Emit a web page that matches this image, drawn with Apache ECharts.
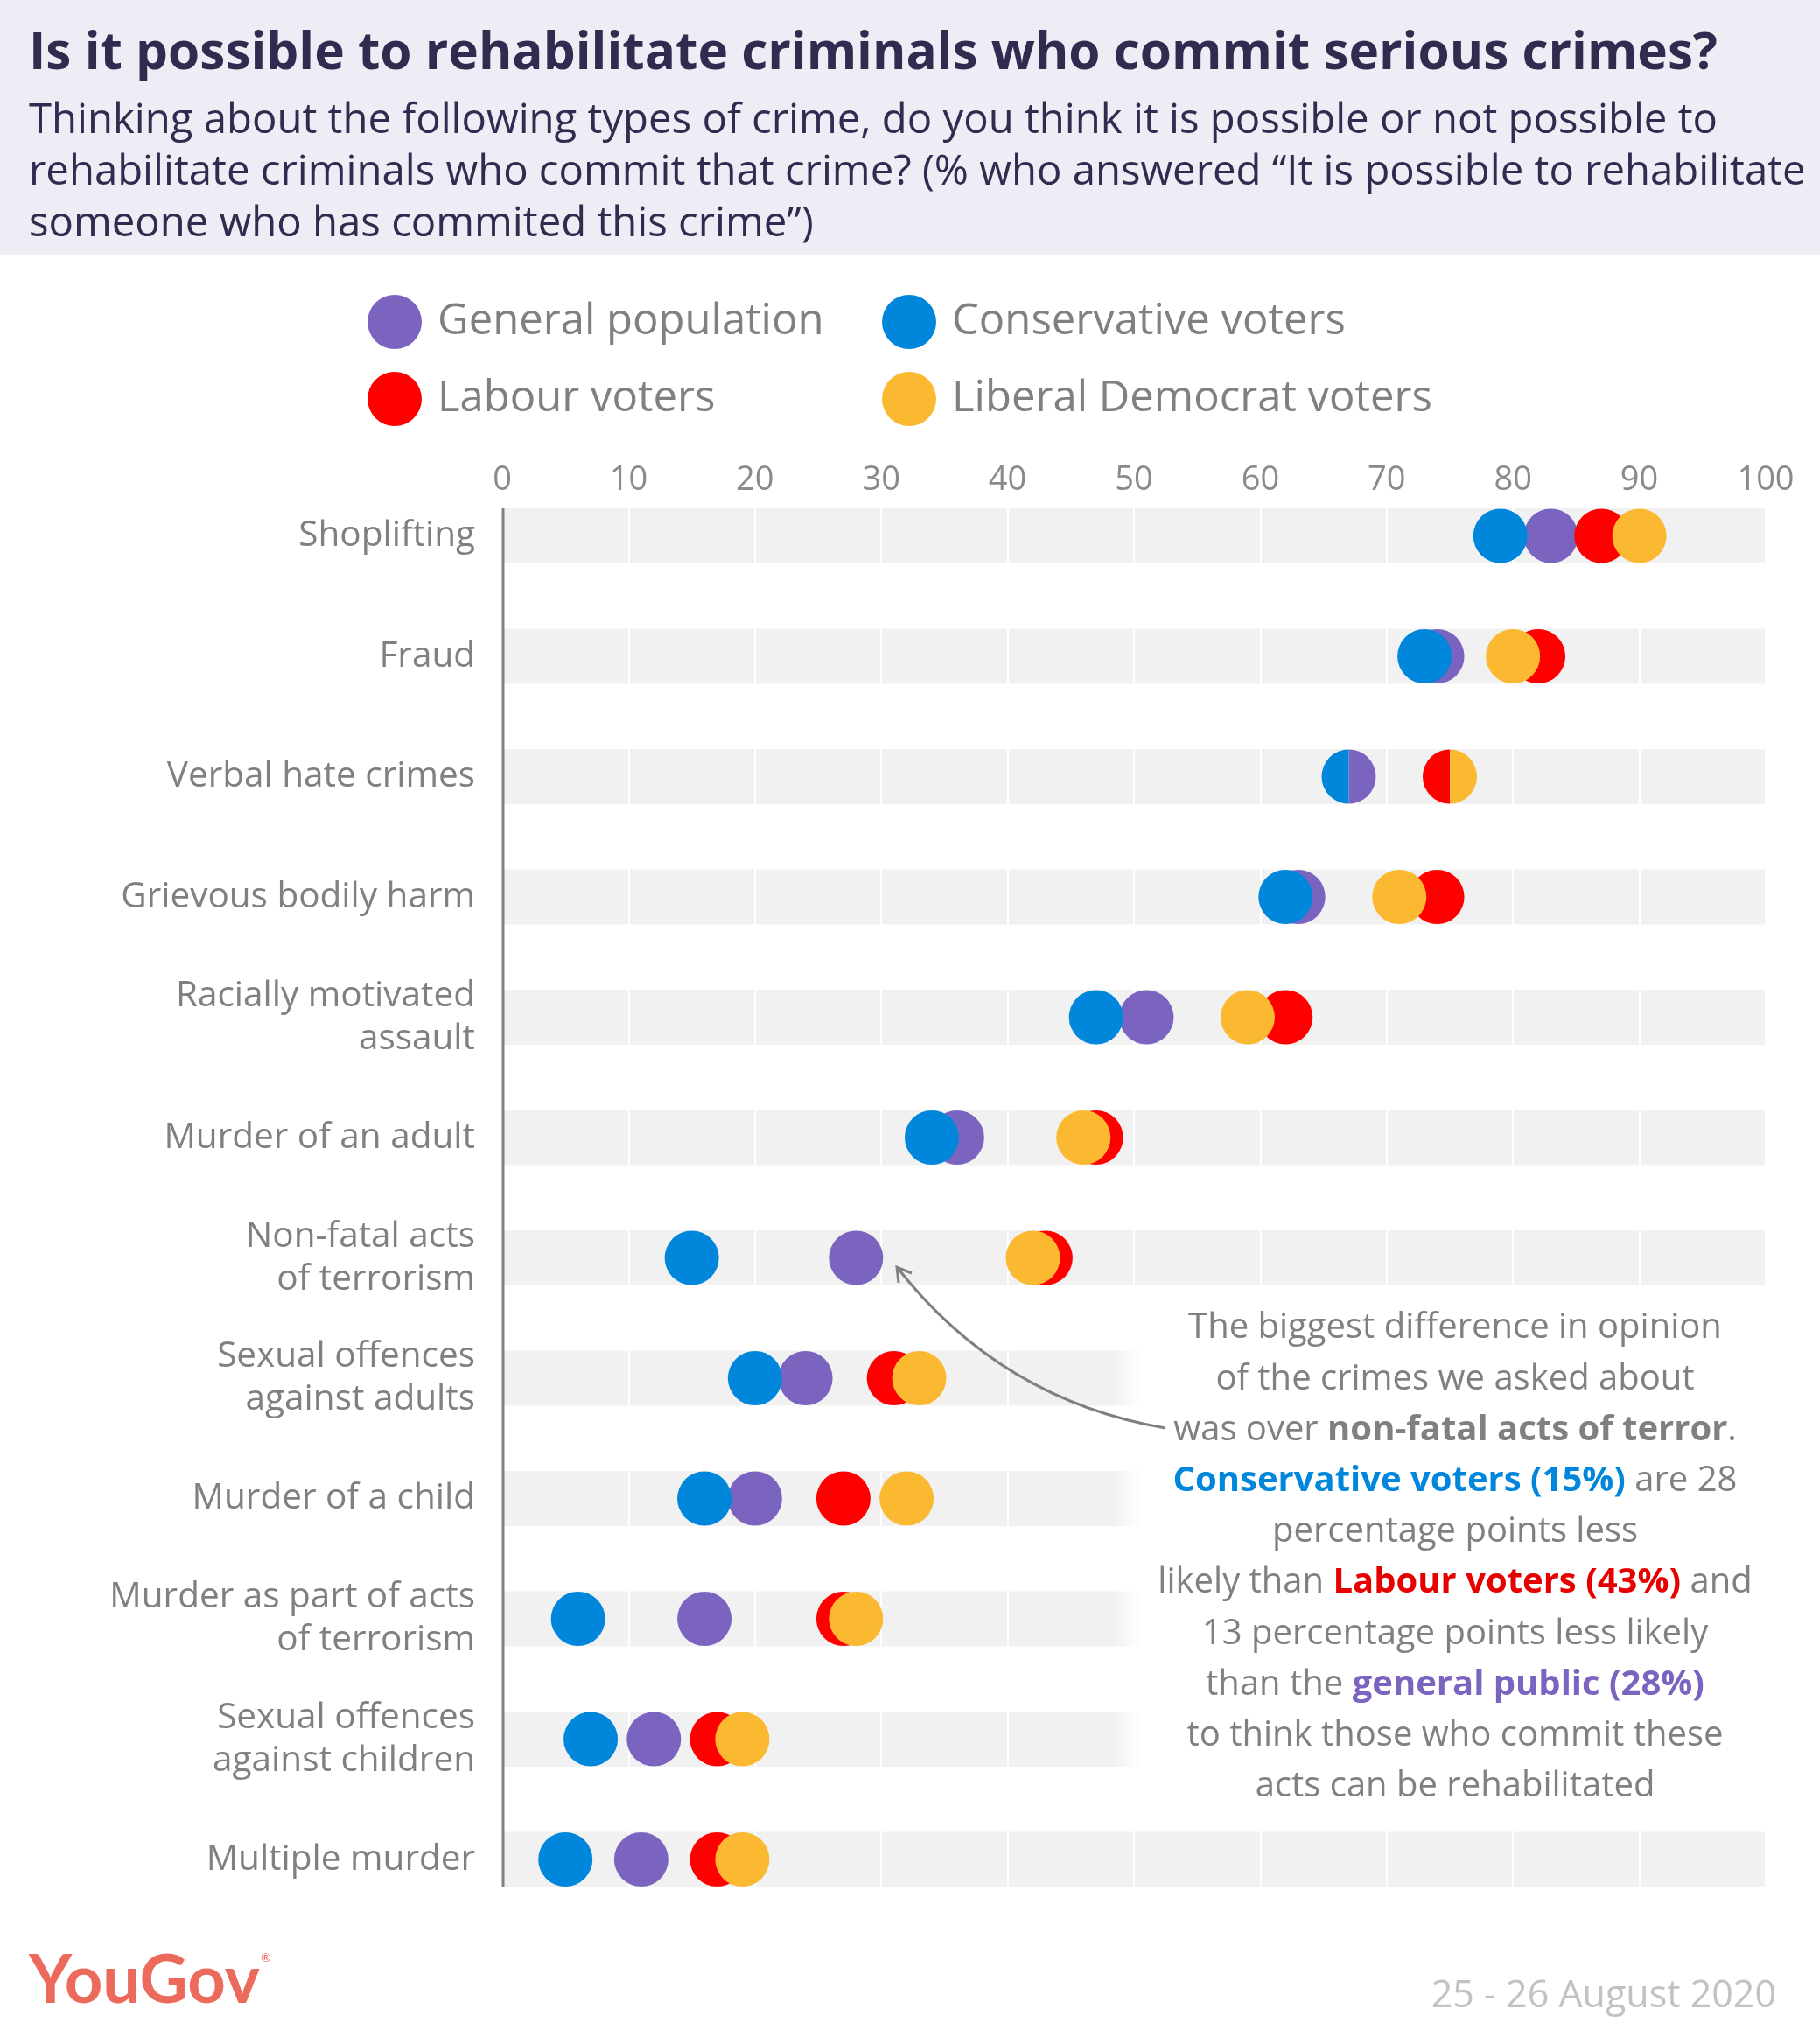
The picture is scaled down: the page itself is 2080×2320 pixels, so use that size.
<!DOCTYPE html>
<html><head><meta charset="utf-8">
<script src="https://cdn.jsdelivr.net/npm/echarts/dist/echarts.min.js"></script>
<style>html,body{margin:0;padding:0;background:#fff}#c{width:2080px;height:2320px}</style>
</head><body><div id="c"></div>
<script>
// ---- data ----
const categories = ['Shoplifting','Fraud','Verbal hate crimes','Grievous bodily harm','Racially motivated\nassault','Murder of an adult','Non-fatal acts\nof terrorism','Sexual offences\nagainst adults','Murder of a child','Murder as part of acts\nof terrorism','Sexual offences\nagainst children','Multiple murder'];
const generalPopulation  = [83,74,67,63,51,36,28,24,20,16,12,11];
const conservativeVoters = [79,73,67,62,47,34,15,20,16, 6, 7, 5];
const labourVoters       = [87,82,75,74,62,47,43,31,27,27,17,17];
const libDemVoters       = [90,80,75,71,59,46,42,33,32,28,19,19];
const axisMin = 0, axisMax = 100, axisStep = 10;
const bandValues = categories.map(() => axisMax);

const FONT = "'Open Sans', Lato, sans-serif";
const LOGO_FONT = "Lato, 'Open Sans', sans-serif";
const GRAY = '#808080';
const DOT = 62;

const seriesDefs = [
  {name:'General population', data:generalPopulation, color:'#7b64c0', z:3, side:'right'},
  {name:'Labour voters', data:labourVoters, color:'#ff0000', z:4, side:'left'},
  {name:'Conservative voters', data:conservativeVoters, color:'#0087dc', z:5, side:'left'},
  {name:'Liberal Democrat voters', data:libDemVoters, color:'#fbb931', z:6, side:'right'}
];
const LEFT_HALF = 'path://M10,0 A10,10 0 0 0 10,20 Z';
const RIGHT_HALF = 'path://M10,0 A10,10 0 0 1 10,20 Z';

function buildData(def) {
  return def.data.map((v, i) => {
    const tie = seriesDefs.some(o => o !== def && o.data[i] === v);
    if (!tie) return {value:[v, i]};
    return {
      value:[v, i],
      symbol: def.side === 'left' ? LEFT_HALF : RIGHT_HALF,
      symbolSize:[DOT/2, DOT],
      symbolOffset:[def.side === 'left' ? -DOT/4 : DOT/4, 0]
    };
  });
}

const scatterSeries = seriesDefs.map(def => ({
  name: def.name, type:'scatter', z: def.z, silent:true,
  symbol:'circle', symbolSize: DOT,
  itemStyle:{color:def.color, opacity:1},
  emphasis:{disabled:true},
  data: buildData(def)
}));

const annotationLines = [
  'The biggest difference in opinion',
  'of the crimes we asked about',
  'was over {b|non-fatal acts of terror}.',
  '{c|Conservative voters (15%)} are 28',
  'percentage points less',
  'likely than {l|Labour voters (43%)} and',
  '13 percentage points less likely',
  'than the {p|general public (28%)}',
  'to think those who commit these',
  'acts can be rehabilitated'
];
const richBase = {fontSize:40, fontFamily:FONT};
const rich = {
  b: Object.assign({fill:GRAY, fontWeight:'bold'}, richBase),
  c: Object.assign({fill:'#0087dc', fontWeight:'bold'}, richBase),
  l: Object.assign({fill:'#e60000', fontWeight:'bold'}, richBase),
  p: Object.assign({fill:'#7b64c0', fontWeight:'bold'}, richBase)
};

const chart = echarts.init(document.getElementById('c'), null, {renderer:'canvas'});

function baseGraphics() {
  const g = [
    {type:'rect', z:0, shape:{x:0, y:0, width:2080, height:292}, style:{fill:'#eeecf5'}},
    {type:'rect', z:1.5, silent:true, shape:{x:1272, y:1488, width:760, height:580},
     style:{fill:new echarts.graphic.LinearGradient(0,0,1,0,[
       {offset:0, color:'rgba(255,255,255,0)'},{offset:0.045, color:'#ffffff'},{offset:1, color:'#ffffff'}])}},
    {type:'bezierCurve', z:10, shape:{x1:1332, y1:1632, x2:1025, y2:1448, cpx1:1144, cpy1:1600},
     style:{stroke:GRAY, lineWidth:3, fill:null}},
    {type:'polyline', z:10, shape:{points:[[1027,1466],[1025,1448],[1042,1455]]},
     style:{stroke:GRAY, lineWidth:3, fill:null}},
    {type:'text', z:10, x:33, y:2264, style:{text:'YouGov', fill:'#ec6a5c', fontSize:76, fontWeight:'bold', fontFamily:LOGO_FONT, textAlign:'left', textVerticalAlign:'middle', align:'left', verticalAlign:'middle'}},
    {type:'text', z:10, x:298, y:2237, style:{text:'®', fill:'#ec6a5c', fontSize:14, fontFamily:LOGO_FONT, textAlign:'left', textVerticalAlign:'middle', align:'left', verticalAlign:'middle'}},
    {type:'text', z:10, x:2030, y:2282, style:{text:'25 - 26 August 2020', fill:'#c2c2c2', fontSize:43, fontFamily:FONT, textAlign:'right', textVerticalAlign:'middle', align:'right', verticalAlign:'middle'}}
  ];
  annotationLines.forEach((t, k) => {
    g.push({type:'text', z:10, x:1663, y:1518 + k*58.2,
      style:{text:t, rich:rich, fill:GRAY, fontSize:40, fontFamily:FONT,
        textAlign:'center', textVerticalAlign:'middle', align:'center', verticalAlign:'middle'}});
  });
  return g;
}

const option = {
  backgroundColor:'#ffffff',
  animation:false,
  title:{
    text:'Is it possible to rehabilitate criminals who commit serious crimes?',
    subtext:'Thinking about the following types of crime, do you think it is possible or not possible to\nrehabilitate criminals who commit that crime? (% who answered \u201cIt is possible to rehabilitate\nsomeone who has commited this crime\u201d)',
    left:33, top:27, padding:0, itemGap:12,
    textStyle:{fontFamily:FONT, fontSize:58.5, fontWeight:'bold', color:'#302b4f', lineHeight:70},
    subtextStyle:{fontFamily:FONT, fontSize:47.3, color:'#302b4f', lineHeight:59}
  },
  legend:[
    {data:['General population','Labour voters'], orient:'vertical', left:420, top:337, padding:0,
     itemWidth:DOT, itemHeight:DOT, itemGap:26, icon:'circle', selectedMode:false,
     textStyle:{fontFamily:FONT, fontSize:49, color:GRAY, padding:[0,0,0,13]}},
    {data:['Conservative voters','Liberal Democrat voters'], orient:'vertical', left:1008, top:337, padding:0,
     itemWidth:DOT, itemHeight:DOT, itemGap:26, icon:'circle', selectedMode:false,
     textStyle:{fontFamily:FONT, fontSize:49, color:GRAY, padding:[0,0,0,13]}}
  ],
  grid:{left:574, right:62, top:543.75, bottom:126.25, containLabel:false, outerBoundsMode:'none'},
  xAxis:{
    type:'value', position:'top', min:axisMin, max:axisMax, interval:axisStep, z:1,
    axisLine:{show:false}, axisTick:{show:false},
    axisLabel:{fontFamily:FONT, fontSize:38, color:'#8a8a8a', margin:-5, verticalAlign:'middle'},
    splitLine:{show:true, lineStyle:{color:'#ffffff', width:2}}
  },
  yAxis:{
    type:'category', data:categories, inverse:true,
    axisLine:{show:false}, axisTick:{show:false}, splitLine:{show:false},
    axisLabel:{fontFamily:FONT, fontSize:40.5, color:GRAY, lineHeight:49, margin:31, align:'right'}
  },
  series:[
    {type:'bar', name:'band', data:bandValues, barWidth:63, z:0, silent:true,
     itemStyle:{color:'#f1f1f1'}, emphasis:{disabled:true}}
  ].concat(scatterSeries),
  graphic:{elements: baseGraphics()}
};
chart.setOption(option);

// y-axis line spanning from the top of the first band to the bottom of the last band
const pTop = chart.convertToPixel({gridIndex:0}, [axisMin, 0]);
const pBot = chart.convertToPixel({gridIndex:0}, [axisMin, categories.length - 1]);
const g2 = baseGraphics();
g2.push({type:'line', z:9, shape:{x1:pTop[0]+1, y1:pTop[1]-31.5, x2:pBot[0]+1, y2:pBot[1]+31.5},
  style:{stroke:GRAY, lineWidth:3}});
chart.setOption({graphic:{elements:g2}});
</script>
</body></html>
